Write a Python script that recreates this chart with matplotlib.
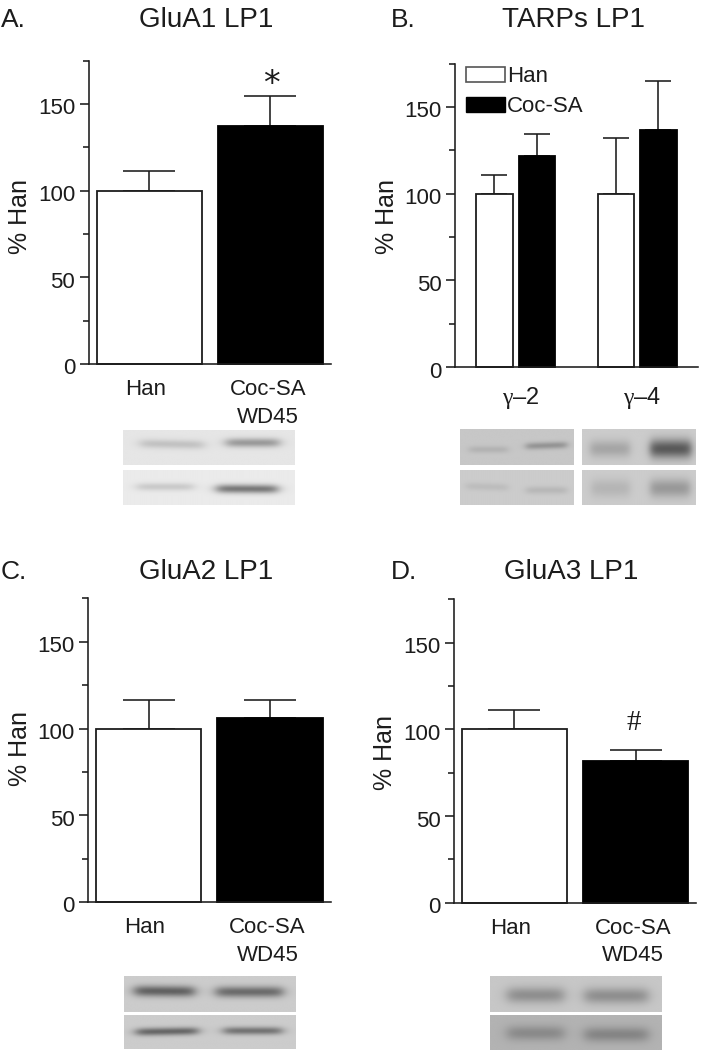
import numpy as np
import matplotlib
matplotlib.use("Agg")
import matplotlib.pyplot as plt
from matplotlib.patches import Patch
from matplotlib.transforms import ScaledTranslation

plt.rcParams['font.family'] = ['Liberation Sans', 'DejaVu Sans']
plt.rcParams['mathtext.fontset'] = 'custom'
plt.rcParams['mathtext.rm'] = 'Liberation Sans'
plt.rcParams['mathtext.it'] = 'Liberation Serif'

# -------------------------------
# DATA
# -------------------------------

groups_two = ["Han", "Coc-SA\nWD45"]
groups_tarp = [r"$\gamma$–2", r"$\gamma$–4"]
legend_names = ["Han", "Coc-SA"]

glua1_means = [100, 137]
glua1_tops = [111, 154.5]

tarp_han_means = [100, 100]
tarp_han_tops = [110.8, 132.3]
tarp_coc_means = [121.5, 136.8]
tarp_coc_tops = [134.6, 164.8]

glua2_means = [100, 105.8]
glua2_tops = [116.4, 116.7]

glua3_means = [100, 81.6]
glua3_tops = [110.9, 88]

major_ticks = [0, 50, 100, 150]
minor_ticks = [25, 75, 125, 175]

# blot bands: x start, x end, y, y spread, darkness, tilt (fractions of the strip)
blot_a_top = [(0.10, 0.47, 0.42, 0.09, 0.14, 0.10), (0.60, 0.91, 0.38, 0.09, 0.30, 0.0)]
blot_a_bot = [(0.08, 0.41, 0.48, 0.08, 0.13, 0.0), (0.545, 0.90, 0.54, 0.09, 0.45, 0.02)]
blot_b_tl = [(0.08, 0.42, 0.57, 0.07, 0.08, 0.0), (0.58, 0.94, 0.46, 0.07, 0.20, -0.10)]
blot_b_tr = [(0.07, 0.42, 0.55, 0.17, 0.15, 0.0), (0.60, 0.96, 0.55, 0.19, 0.45, 0.0)]
blot_b_bl = [(0.05, 0.42, 0.48, 0.08, 0.06, 0.10), (0.58, 0.94, 0.58, 0.08, 0.08, 0.0)]
blot_b_br = [(0.08, 0.42, 0.52, 0.19, 0.09, 0.0), (0.60, 0.95, 0.52, 0.19, 0.20, 0.0)]
blot_c_top = [(0.06, 0.41, 0.42, 0.11, 0.42, 0.04), (0.535, 0.925, 0.44, 0.11, 0.38, 0.0)]
blot_c_bot = [(0.07, 0.43, 0.50, 0.08, 0.40, -0.08), (0.58, 0.92, 0.48, 0.08, 0.35, 0.0)]
blot_d_top = [(0.10, 0.43, 0.53, 0.16, 0.22, 0.0), (0.55, 0.92, 0.55, 0.16, 0.22, 0.0)]
blot_d_bot = [(0.10, 0.43, 0.53, 0.15, 0.16, 0.0), (0.55, 0.92, 0.57, 0.15, 0.18, 0.0)]

# -------------------------------
# HELPERS
# -------------------------------

W, H = 726, 1050
INK = "#1c1c1c"

fig = plt.figure(figsize=(W / 100, H / 100), dpi=100, facecolor="white")


def px_axes(x0, y_top, x1, y_bot):
    return fig.add_axes([x0 / W, 1 - y_bot / H, (x1 - x0) / W, (y_bot - y_top) / H])


def px_text(x, y, s, size, **kw):
    kw.setdefault("ha", "center")
    kw.setdefault("va", "center")
    fig.text(x / W, 1 - y / H, s, fontsize=size, color=INK, **kw)


def make_axes(x0, y_top, y0, x1):
    ax = px_axes(x0, y_top, x1, y0)
    ax.patch.set_alpha(0)
    ax.set_xlim(-0.5, 1.5)
    ax.set_ylim(0, 175)
    ax.spines[["top", "right"]].set_visible(False)
    ax.spines[["left", "bottom"]].set_linewidth(1.15)
    ax.spines[["left", "bottom"]].set_color(INK)
    ax.set_yticks(major_ticks)
    ax.set_yticks(minor_ticks, minor=True)
    ax.tick_params(axis="y", which="major", length=6.5, width=1.15, color=INK,
                   labelsize=16, pad=3, labelcolor=INK)
    ax.tick_params(axis="y", which="minor", length=4, width=1.15, color=INK)
    ax.tick_params(axis="x", length=0, labelsize=16, labelcolor=INK, pad=11)
    shift = ScaledTranslation(0, -2.5 / 100, fig.dpi_scale_trans)
    for lab in ax.get_yticklabels():
        lab.set_transform(lab.get_transform() + shift)
    return ax


def bars(ax, xs, means, tops, width, color, cap=2.6):
    ax.bar(xs, means, width=width, color=color, edgecolor=INK if color == "white" else "black",
           linewidth=1.3, zorder=2, clip_on=False)
    ax.errorbar(xs, means, yerr=[np.zeros(len(means)), np.array(tops) - np.array(means)],
                fmt="none", ecolor=INK, elinewidth=1.15, capsize=cap * 7.3, capthick=1.15,
                zorder=1)


def two_bar_panel(x0, y_top, y0, x1, means, tops):
    ax = make_axes(x0, y_top, y0, x1)
    bars(ax, [0], means[:1], tops[:1], 0.866, "white")
    bars(ax, [1], means[1:], tops[1:], 0.87, "black")
    ax.set_xticks([-0.03, 0.98], groups_two, linespacing=1.4)
    return ax


def blot(x0, y_top, x1, y_bot, bg, bands):
    ax = px_axes(x0, y_top, x1, y_bot)
    ny, nx = int(y_bot - y_top) * 2, int(x1 - x0) * 2
    yy, xx = np.mgrid[0:1:ny * 1j, 0:1:nx * 1j]
    img = np.full((ny, nx), bg, dtype=float)
    for xa, xb, yc, sy, dark, tilt in bands:
        edge = 0.04
        box = 0.25 * (1 + np.tanh((xx - xa) / edge)) * (1 + np.tanh((xb - xx) / edge))
        line = yc + tilt * (xx - 0.5 * (xa + xb))
        img -= dark * box * np.exp(-0.5 * ((yy - line) / sy) ** 2)
    ax.imshow(img, cmap="gray", vmin=0, vmax=1, aspect="auto", interpolation="bilinear")
    ax.axis("off")


# -------------------------------
# PANELS
# -------------------------------

two_bar_panel(88.5, 60.5, 364, 331, glua1_means, glua1_tops)
two_bar_panel(88, 598.4, 902, 330.7, glua2_means, glua2_tops)
two_bar_panel(453.7, 599.4, 902.7, 696.3, glua3_means, glua3_tops)

ax_b = make_axes(454.7, 63.6, 367, 698)
tarp_x = np.array([0, 1])
bars(ax_b, tarp_x - 0.173, tarp_han_means, tarp_han_tops, 0.30, "white", cap=1.3)
bars(ax_b, tarp_x + 0.175, tarp_coc_means, tarp_coc_tops, 0.30, "black", cap=1.3)
ax_b.set_xticks([0.04, 1.04], groups_tarp)
ax_b.tick_params(axis="x", pad=13, labelsize=17)
ax_b.legend(handles=[Patch(facecolor="white", edgecolor="#555555", linewidth=1.2, label=legend_names[0]),
                     Patch(facecolor="black", edgecolor="black", label=legend_names[1])],
            loc="upper left", bbox_to_anchor=(0.047, 0.992), frameon=False, fontsize=16,
            handlelength=1.75, handleheight=0.65, handletextpad=0.1, labelspacing=0.42,
            borderpad=0, borderaxespad=0, labelcolor=INK)

# -------------------------------
# TEXT
# -------------------------------

for x, y, s in [(206, 20, "GluA1 LP1"), (573, 20, "TARPs LP1"),
                (206, 572, "GluA2 LP1"), (571, 572, "GluA3 LP1")]:
    px_text(x, y, s, 20)

for x, y, s in [(1, 20, "A."), (391, 20, "B."), (1, 572, "C."), (391, 572, "D.")]:
    px_text(x, y, s, 19, ha="left")

for x, y in [(20, 216), (387, 216), (20, 748), (385, 753)]:
    px_text(x, y, "% Han", 18, rotation=90)

px_text(271, 84, "*", 24, family="DejaVu Sans")
px_text(634, 723, "#", 21, family="Liberation Serif")

# -------------------------------
# BLOTS
# -------------------------------

blot(123.3, 430, 295, 465.3, 0.90, blot_a_top)
blot(123.3, 470, 295, 505, 0.92, blot_a_bot)
blot(459.7, 429.3, 573, 464.7, 0.78, blot_b_tl)
blot(582, 429.3, 695.3, 464.7, 0.80, blot_b_tr)
blot(459.7, 470, 573, 505, 0.80, blot_b_bl)
blot(582, 470, 695.3, 505, 0.80, blot_b_br)
blot(124.3, 976, 295.7, 1011.7, 0.80, blot_c_top)
blot(124.3, 1014.7, 295.7, 1049.3, 0.80, blot_c_bot)
blot(489.7, 976, 660.7, 1011.7, 0.78, blot_d_top)
blot(489.7, 1014.7, 660.7, 1050, 0.70, blot_d_bot)

fig.savefig("out.png", dpi=100, facecolor="white")
